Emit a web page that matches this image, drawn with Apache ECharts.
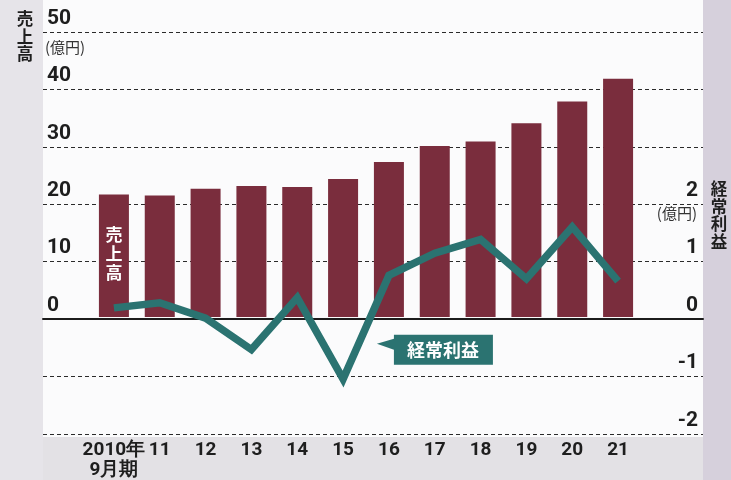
<!DOCTYPE html>
<html>
<head>
<meta charset="utf-8">
<script src="https://cdn.jsdelivr.net/npm/echarts@6/dist/echarts.min.js"></script>
<style>
  html, body { margin: 0; padding: 0; background: #e6e4e9; }
  #chart { width: 731px; height: 480px; }
</style>
</head>
<body>
<div id="chart"></div>
<script>
// Fiscal years (September year-end)
const categories = ['2010年\n9月期', '11', '12', '13', '14', '15', '16', '17', '18', '19', '20', '21'];
// Net sales, 100 million yen
const sales = [21.5, 21.3, 22.5, 23.0, 22.8, 24.2, 27.2, 30.0, 30.8, 34.0, 37.8, 41.8];
// Ordinary profit, 100 million yen
const profit = [0.16, 0.25, -0.02, -0.57, 0.34, -1.09, 0.73, 1.12, 1.36, 0.67, 1.58, 0.63];
// Axis ranges
const salesRange = { min: -20, max: 50, step: 10, lastLabel: 50 };
const profitRange = { min: -2, max: 5, step: 1, lastLabel: 2 };

const NUM_FONT = 'Roboto, "Liberation Sans", sans-serif';
const JP_FONT = '"Noto Sans CJK JP", sans-serif';
const BAR_COLOR = '#7a2d3d';
const LINE_COLOR = '#2b7371';

const chart = echarts.init(document.getElementById('chart'), null, { renderer: 'canvas' });

// vertical axis titles, one character per line
const vTitle = (x, y, text) => ({
  type: 'text', x: x, y: y,
  style: {
    text: text.split('').join('\n'), fontFamily: JP_FONT, fontWeight: 'bold', fontSize: 16.5,
    lineHeight: 17.5, fill: '#1e1e1e', align: 'center', verticalAlign: 'top'
  }
});
const unitText = (x, y, align) => ({
  type: 'text', x: x, y: y,
  style: { text: '(億円)', fontFamily: JP_FONT, fontSize: 15, fill: '#333', align: align, verticalAlign: 'middle' }
});

const option = {
  backgroundColor: '#e6e4e9',
  animation: false,
  graphic: [
    // white paper panel behind the plot
    { type: 'rect', z: -10, shape: { x: 43, y: 0, width: 660, height: 437 }, style: { fill: '#fbfbfc' } },
    { type: 'rect', z: -10, shape: { x: 703, y: 0, width: 28, height: 480 }, style: { fill: '#d6d0dc' } },
    { type: 'rect', z: -10, shape: { x: 43, y: 437, width: 660, height: 43 }, style: { fill: '#e3e1e5' } },
    vTitle(25, 10, '売上高'),
    unitText(45, 47, 'left'),
    vTitle(719, 180, '経常利益'),
    unitText(697, 213, 'right')
  ],
  grid: [
    { left: 43, right: 28, top: 32, bottom: 46 },
    { left: 91, right: 90, top: 32, bottom: 46 }
  ],
  xAxis: [
    {
      gridIndex: 0, type: 'category', data: [''],
      axisLine: { show: true, onZero: true, lineStyle: { color: '#1c1c1c', width: 2 } },
      axisTick: { show: false }, axisLabel: { show: false }, splitLine: { show: false }
    },
    {
      gridIndex: 1, type: 'category', data: categories,
      axisLine: { show: false }, axisTick: { show: false },
      axisLabel: {
        margin: 9, color: '#1e1e1e', fontFamily: NUM_FONT, fontWeight: 'bold', fontSize: 19, lineHeight: 20,
        interval: 0
      }
    }
  ],
  yAxis: [
    {
      gridIndex: 0, type: 'value', position: 'left',
      min: salesRange.min, max: salesRange.max, interval: salesRange.step,
      axisLine: { show: false }, axisTick: { show: false },
      splitLine: { show: true, lineStyle: { color: '#2a2a2a', width: 1, type: [4, 3] } },
      axisLabel: {
        inside: true, margin: 4, align: 'left', verticalAlign: 'bottom', padding: [0, 0, 3, 0],
        color: '#1e1e1e', fontFamily: NUM_FONT, fontWeight: 'bold', fontSize: 21,
        formatter: v => (v >= 0 && v <= salesRange.lastLabel ? String(v) : '')
      }
    },
    {
      gridIndex: 0, type: 'value', position: 'right',
      min: profitRange.min, max: profitRange.max, interval: profitRange.step,
      axisLine: { show: false }, axisTick: { show: false }, splitLine: { show: false },
      axisLabel: {
        inside: true, margin: 5, align: 'right', verticalAlign: 'bottom', padding: [0, 0, 3, 0],
        color: '#1e1e1e', fontFamily: NUM_FONT, fontWeight: 'bold', fontSize: 21,
        formatter: v => (v <= profitRange.lastLabel ? String(v) : '')
      }
    },
    {
      gridIndex: 1, type: 'value', show: false,
      min: salesRange.min, max: salesRange.max, interval: salesRange.step, splitLine: { show: false }
    },
    {
      gridIndex: 1, type: 'value', show: false,
      min: profitRange.min, max: profitRange.max, interval: profitRange.step, splitLine: { show: false }
    }
  ],
  series: [
    {
      name: '売上高', type: 'bar', xAxisIndex: 1, yAxisIndex: 2,
      barWidth: 30, z: 2,
      itemStyle: { color: BAR_COLOR },
      data: sales.map((v, i) => i === 0
        ? { value: v, label: { show: true, position: 'inside', formatter: '売\n上\n高', color: '#fff',
            fontFamily: JP_FONT, fontWeight: 'bold', fontSize: 17, lineHeight: 19, offset: [0, -2] } }
        : v)
    },
    {
      name: '経常利益', type: 'line', xAxisIndex: 1, yAxisIndex: 3,
      z: 5, symbol: 'none',
      lineStyle: { color: LINE_COLOR, width: 7.5, join: 'miter', cap: 'butt' },
      data: profit,
      markPoint: {
        silent: true,
        symbol: 'path://M0,9 L17,4 L17,0 L116,0 L116,30 L17,30 L17,15 Z',
        symbolSize: [116, 30],
        symbolKeepAspect: false,
        itemStyle: { color: LINE_COLOR },
        label: {
          show: true, position: 'inside', offset: [8, 0],
          color: '#fff', fontFamily: JP_FONT, fontWeight: 'bold', fontSize: 18
        },
        data: [{ coord: ['16', -0.47], symbolOffset: [46, 6], value: '経常利益', label: { formatter: '経常利益' } }]
      }
    }
  ]
};

chart.setOption(option);
</script>
</body>
</html>
